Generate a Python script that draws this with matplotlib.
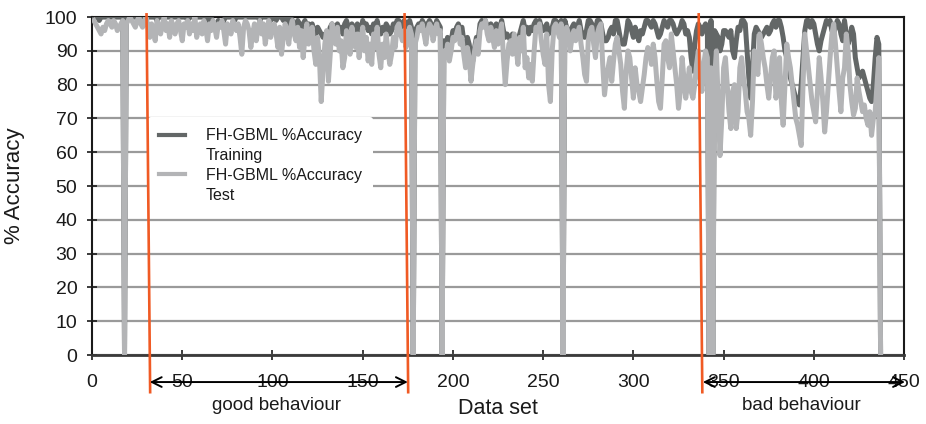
import numpy as np
import matplotlib
matplotlib.use("Agg")
import matplotlib.pyplot as plt
from matplotlib.lines import Line2D

plt.rcParams['font.family'] = ['Liberation Sans', 'DejaVu Sans']

# ---------------- data ----------------
test_acc = [
    99, 98, 97, 96, 95, 97, 96, 98, 99, 98,
    97, 99, 98, 96, 97, 98, 99, 0, 98, 99,
    100, 99, 98, 97, 99, 100, 98, 97, 99, 100,
    97, 94, 98, 96, 93, 99, 97, 95, 98, 100,
    96, 98, 94, 99, 97, 95, 98, 99, 96, 93,
    98, 97, 99, 95, 98, 96, 100, 94, 97, 98,
    95, 99, 97, 93, 98, 96, 99, 97, 94, 98,
    97, 99, 96, 92, 98, 97, 95, 99, 97, 96,
    98, 94, 89, 97, 99, 98, 96, 91, 95, 98,
    93, 97, 99, 95, 98, 92, 96, 99, 94, 97,
    98, 95, 91, 97, 89, 94, 98, 96, 92, 97,
    99, 95, 93, 97, 91, 96, 88, 94, 98, 92,
    95, 97, 90, 86, 94, 88, 75, 84, 92, 96,
    81, 89, 98, 95, 92, 97, 90, 93, 85, 88,
    96, 92, 89, 97, 94, 91, 95, 88, 93, 97,
    90, 94, 87, 92, 86, 95, 91, 97, 89, 85,
    92, 88, 95, 90, 86, 89, 94, 91, 97, 98,
    95, 93, 96, 91, 95, 97, 95, 0, 92, 94,
    97, 96, 98, 95, 92, 96, 98, 97, 93, 96,
    98, 95, 96, 0, 90, 88, 92, 87, 90, 94,
    93, 95, 97, 92, 94, 89, 85, 91, 88, 81,
    86, 90, 93, 89, 96, 98, 97, 99, 95, 93,
    97, 94, 91, 96, 92, 95, 98, 88, 80, 87,
    92, 93, 89, 95, 91, 86, 94, 90, 97, 85,
    88, 82, 86, 81, 90, 97, 96, 98, 93, 89,
    86, 95, 80, 75, 90, 97, 98, 96, 94, 98,
    0, 96, 97, 95, 90, 94, 96, 93, 95, 97,
    92, 88, 83, 81, 93, 96, 97, 92, 88, 95,
    97, 98, 86, 77, 82, 85, 88, 81, 87, 92,
    94, 90, 86, 78, 73, 84, 90, 88, 82, 76,
    85, 80, 78, 75, 79, 83, 88, 91, 90, 86,
    92, 88, 81, 75, 73, 82, 92, 93, 88, 85,
    95, 90, 85, 80, 73, 78, 88, 82, 76, 80,
    85, 78, 76, 80, 86, 90, 82, 78, 86, 90,
    88, 0, 85, 0, 82, 90, 75, 59, 70, 85,
    88, 80, 72, 67, 78, 80, 67, 72, 85, 88,
    82, 78, 72, 70, 65, 75, 90, 86, 83, 95,
    92, 88, 85, 80, 76, 82, 88, 90, 76, 80,
    88, 75, 68, 80, 92, 88, 85, 80, 75, 70,
    68, 65, 62, 80, 95, 90, 85, 80, 75, 72,
    69, 78, 88, 82, 75, 66, 72, 80, 88, 95,
    98, 92, 85, 78, 72, 82, 85, 95, 90, 80,
    75, 71, 73, 82, 78, 75, 72, 74, 70, 68,
    72, 65, 70, 72, 80, 88, 0,
]

train_acc = [
    100, 100, 100, 99, 100, 100, 100, 100, 100, 100,
    100, 100, 100, 100, 100, 100, 100, 0, 100, 100,
    100, 100, 100, 100, 100, 100, 100, 100, 100, 100,
    100, 100, 100, 100, 100, 99, 100, 100, 100, 100,
    100, 100, 100, 100, 100, 100, 100, 100, 100, 100,
    100, 100, 99, 100, 100, 100, 100, 100, 100, 100,
    100, 100, 100, 99, 100, 100, 98, 97, 98, 99,
    98, 97, 99, 100, 100, 100, 100, 100, 99, 100,
    100, 100, 100, 100, 100, 100, 100, 100, 100, 100,
    100, 100, 99, 100, 100, 100, 100, 100, 99, 100,
    100, 99, 100, 100, 100, 99, 100, 100, 98, 100,
    99, 98, 97, 99, 98, 96, 98, 99, 97, 98,
    97, 98, 96, 95, 97, 96, 95, 94, 95, 94,
    95, 97, 98, 96, 97, 98, 96, 97, 95, 98,
    99, 97, 96, 98, 97, 95, 98, 97, 96, 99,
    97, 98, 96, 97, 95, 98, 97, 99, 96, 95,
    97, 96, 98, 97, 95, 96, 98, 97, 99, 99,
    98, 97, 99, 96, 98, 99, 97, 0, 96, 97,
    98, 97, 99, 98, 96, 98, 99, 98, 96, 97,
    99, 98, 97, 0, 93, 90, 94, 92, 93, 96,
    95, 97, 98, 96, 97, 93, 91, 94, 92, 88,
    87, 91, 94, 93, 98, 99, 98, 99, 97, 96,
    98, 97, 95, 98, 96, 97, 99, 96, 94, 95,
    94, 93, 95, 92, 94, 93, 95, 97, 99, 96,
    97, 95, 97, 96, 98, 99, 98, 99, 97, 96,
    97, 98, 95, 96, 97, 99, 99, 98, 97, 99,
    0, 99, 97, 95, 96, 97, 98, 96, 97, 99,
    96, 95, 94, 96, 99, 99, 98, 97, 96, 99,
    99, 98, 95, 93, 93, 94, 96, 97, 95, 99,
    99, 96, 93, 92, 92, 95, 99, 98, 96, 94,
    97, 95, 93, 96, 95, 97, 99, 99, 98, 97,
    99, 98, 96, 94, 95, 97, 99, 98, 97, 99,
    99, 98, 96, 95, 96, 97, 99, 98, 95, 96,
    94, 88, 84, 92, 96, 98, 97, 95, 97, 98,
    97, 0, 99, 0, 96, 95, 94, 90, 92, 96,
    96, 95, 94, 96, 90, 88, 93, 97, 96, 99,
    99, 98, 90, 82, 76, 85, 95, 97, 96, 95,
    94, 95, 96, 97, 95, 96, 98, 99, 97, 99,
    99, 97, 94, 90, 88, 85, 82, 80, 78, 76,
    75, 74, 80, 88, 96, 99, 99, 97, 99, 98,
    95, 92, 90, 93, 95, 97, 99, 98, 99, 96,
    95, 97, 99, 98, 95, 93, 99, 95, 92, 94,
    97, 95, 88, 85, 82, 83, 84, 82, 80, 78,
    76, 75, 80, 88, 94, 92, 0,
]

data_set = np.arange(1, len(test_acc) + 1)

series_labels = ["FH-GBML %Accuracy\nTraining", "FH-GBML %Accuracy\nTest"]
region_bounds = [31, 174, 337]          # data-set indices where behaviour changes
good_region = [32, 175]
bad_region = [338.5, 450.5]
region_labels = ["good behaviour", "bad behaviour"]
x_ticks = list(range(0, 451, 50))
y_ticks = list(range(0, 101, 10))

# ---------------- styles ----------------
C_TRAIN = '#636767'
C_TEST = '#b3b4b6'
C_ORANGE = '#f05a24'
C_GRID = '#9a9a9a'
C_TEXT = '#1a1a1a'

fig = plt.figure(figsize=(9.26, 4.24), dpi=100)
ax = fig.add_axes([0.0994, 0.1627, 0.8769, 0.797])

ax.plot(data_set, train_acc, color=C_TRAIN, lw=3.6, zorder=3, solid_joinstyle='round')
ax.plot(data_set, test_acc, color=C_TEST, lw=3.6, zorder=4, solid_joinstyle='round')

ax.set_xlim(0, 450)
ax.set_ylim(0, 100)
ax.set_xticks(x_ticks)
ax.set_yticks(y_ticks)

ax.yaxis.grid(True, color=C_GRID, lw=1.6, zorder=1)
ax.set_axisbelow(True)

for side in ['left', 'top', 'right']:
    ax.spines[side].set_color(C_TEXT)
    ax.spines[side].set_linewidth(1.5)
ax.spines['bottom'].set_color('#3a3a3a')
ax.spines['bottom'].set_linewidth(2.0)

ax.tick_params(axis='both', direction='inout', length=7, width=1.2, colors=C_TEXT,
               labelsize=14, labelcolor=C_TEXT)
ax.tick_params(axis='x', pad=10)
ax.tick_params(axis='y', pad=7)

ax.set_ylabel('% Accuracy', fontsize=16, color=C_TEXT)
ax.yaxis.set_label_coords(-0.083, 0.5)
ax.set_xlabel('Data set', fontsize=15.5, color=C_TEXT)
ax.xaxis.set_label_coords(0.5, -0.128)

# orange boundary lines (slightly slanted, extending below the axis)
for b in region_bounds:
    ax.plot([b - 0.8, b + 1.2], [100.8, -11], color=C_ORANGE, lw=1.9,
            zorder=7, clip_on=False)

# behaviour arrows and labels
for (a0, a1), lab in zip([good_region, bad_region], region_labels):
    ax.annotate('', xy=(a1, -8.0), xytext=(a0, -8.0),
                arrowprops=dict(arrowstyle='<->,head_length=0.7,head_width=0.35',
                                color='black', lw=1.4, shrinkA=0, shrinkB=0),
                annotation_clip=False, zorder=8)
    ax.text((a0 + a1) / 2 - 1.5, -14.8, lab, ha='center', va='center', fontsize=13.5,
            color=C_TEXT, clip_on=False)

# legend: two-line labels with handle aligned to first line
handles = [
    Line2D([], [], color=C_TRAIN, lw=3),
    Line2D([], [], color='none', lw=3),
    Line2D([], [], color=C_TEST, lw=3),
    Line2D([], [], color='none', lw=3),
]
labels = [series_labels[0].split('\n')[0], series_labels[0].split('\n')[1],
          series_labels[1].split('\n')[0], series_labels[1].split('\n')[1]]
leg = ax.legend(handles, labels, loc='upper left', bbox_to_anchor=(0.069, 0.704),
                borderaxespad=0, frameon=True, facecolor='white', edgecolor='none',
                framealpha=1, fontsize=11.5, handlelength=1.6, handletextpad=1.3,
                labelspacing=0.3, borderpad=0.7)
leg.set_zorder(6)
for t in leg.get_texts():
    t.set_color(C_TEXT)

fig.savefig('out.png', dpi=100)
